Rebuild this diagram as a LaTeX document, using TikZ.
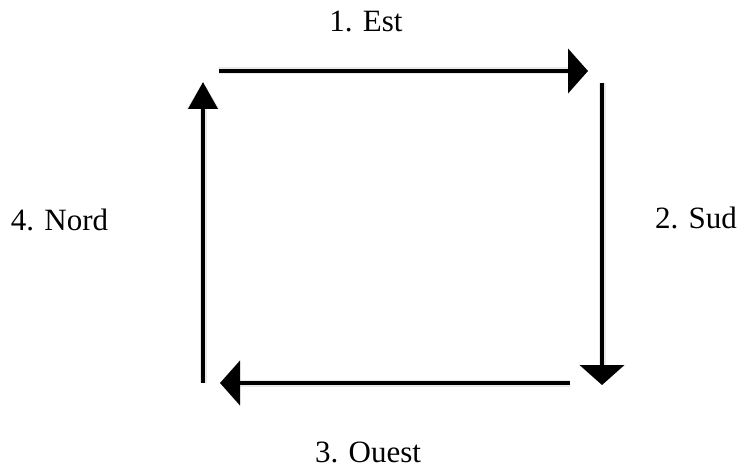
\documentclass[tikz,border=0pt]{standalone}
\usepackage{fontspec}
\setmainfont{Liberation Serif}
\usetikzlibrary{arrows.meta}
\begin{document}
\begin{tikzpicture}[x=1pt,y=-1pt,
  lbl/.style={font=\fontsize{31}{36}\selectfont, inner sep=0pt, anchor=base},
  bigarrow/.style={line width=4pt, -{Triangle[length=20pt,width=44pt]}},
  narrowarrow/.style={line width=4pt, -{Triangle[length=27pt,width=29pt]}},
  shadowline/.style={line width=7pt, draw=black!25, opacity=0.35, -{Triangle[length=20pt,width=46pt]}},
  shadownarrow/.style={line width=7pt, draw=black!25, opacity=0.35, -{Triangle[length=27pt,width=31pt]}}]
\useasboundingbox (0,0) rectangle (738,468);
\coordinate (a1) at (219,71);  \coordinate (b1) at (588,71);
\coordinate (a2) at (602,83);  \coordinate (b2) at (602,385);
\coordinate (a3) at (570,383); \coordinate (b3) at (220,383);
\coordinate (a4) at (203,383); \coordinate (b4) at (203,82);
% soft shadows
\begin{scope}[shift={(3,4)}]
\draw[shadowline] (a1) -- (b1);
\draw[shadowline] (a2) -- (b2);
\draw[shadowline] (a3) -- (b3);
\draw[shadownarrow] (a4) -- (b4);
\end{scope}
\draw[bigarrow] (a1) -- (b1);
\draw[bigarrow] (a2) -- (b2);
\draw[bigarrow] (a3) -- (b3);
\draw[narrowarrow] (a4) -- (b4);
\node[lbl] (est) at (366,32) {1. Est};
\node[lbl] (sud) at (696,228) {2. Sud};
\node[lbl] (ouest) at (368,462) {3. Ouest};
\node[lbl] (nord) at (59.5,230) {4. Nord};
\end{tikzpicture}
\end{document}
